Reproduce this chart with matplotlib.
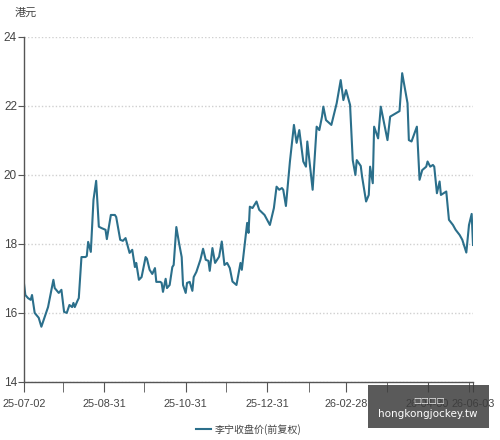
import pandas as pd
import matplotlib.pyplot as plt
import matplotlib.dates as mdates
from matplotlib.patches import Rectangle

# closing price (forward adjusted)
dates = ['2025-07-02', '2025-07-03', '2025-07-05', '2025-07-07', '2025-07-08', '2025-07-10',
         '2025-07-13', '2025-07-15', '2025-07-20', '2025-07-24', '2025-07-25', '2025-07-28',
         '2025-07-30', '2025-08-01', '2025-08-03', '2025-08-05', '2025-08-07', '2025-08-08',
         '2025-08-09', '2025-08-11', '2025-08-12', '2025-08-14', '2025-08-17', '2025-08-18',
         '2025-08-19', '2025-08-21', '2025-08-23', '2025-08-25', '2025-08-27', '2025-08-29',
         '2025-09-01', '2025-09-02', '2025-09-05', '2025-09-08', '2025-09-09', '2025-09-12',
         '2025-09-14', '2025-09-16', '2025-09-19', '2025-09-21', '2025-09-23', '2025-09-24',
         '2025-09-26', '2025-09-28', '2025-10-01', '2025-10-02', '2025-10-04', '2025-10-06',
         '2025-10-08', '2025-10-09', '2025-10-12', '2025-10-13', '2025-10-14', '2025-10-16',
         '2025-10-17', '2025-10-19', '2025-10-21', '2025-10-22', '2025-10-24', '2025-10-26',
         '2025-10-28', '2025-10-29', '2025-10-31', '2025-11-01', '2025-11-03', '2025-11-05',
         '2025-11-06', '2025-11-08', '2025-11-11', '2025-11-13', '2025-11-15', '2025-11-17',
         '2025-11-18', '2025-11-20', '2025-11-22', '2025-11-25', '2025-11-27', '2025-11-29',
         '2025-12-01', '2025-12-03', '2025-12-05', '2025-12-08', '2025-12-11', '2025-12-12',
         '2025-12-16', '2025-12-17', '2025-12-18', '2025-12-20', '2025-12-23', '2025-12-25',
         '2025-12-29', '2026-01-02', '2026-01-05', '2026-01-07', '2026-01-09', '2026-01-11',
         '2026-01-12', '2026-01-14', '2026-01-17', '2026-01-20', '2026-01-22', '2026-01-24',
         '2026-01-27', '2026-01-29', '2026-01-30', '2026-02-03', '2026-02-06', '2026-02-08',
         '2026-02-10', '2026-02-11', '2026-02-13', '2026-02-17', '2026-02-21', '2026-02-24',
         '2026-02-26', '2026-02-28', '2026-03-03', '2026-03-05', '2026-03-07', '2026-03-08',
         '2026-03-11', '2026-03-12', '2026-03-15', '2026-03-17', '2026-03-18', '2026-03-20',
         '2026-03-21', '2026-03-24', '2026-03-26', '2026-03-28', '2026-03-31', '2026-04-02',
         '2026-04-08', '2026-04-09', '2026-04-11', '2026-04-15', '2026-04-16', '2026-04-18',
         '2026-04-22', '2026-04-24', '2026-04-26', '2026-04-29', '2026-04-30', '2026-05-02',
         '2026-05-04', '2026-05-05', '2026-05-07', '2026-05-09', '2026-05-10', '2026-05-14',
         '2026-05-16', '2026-05-19', '2026-05-21', '2026-05-24', '2026-05-26', '2026-05-29',
         '2026-05-31', '2026-06-02', '2026-06-03']
prices = [16.85, 16.52, 16.43, 16.38, 16.52, 16.00,
          15.86, 15.60, 16.17, 16.96, 16.72, 16.58,
          16.67, 16.03, 16.00, 16.23, 16.17, 16.29,
          16.17, 16.35, 16.43, 17.62, 17.62, 17.65,
          18.06, 17.77, 19.28, 19.83, 18.50, 18.46,
          18.41, 18.14, 18.84, 18.84, 18.78, 18.12,
          18.09, 18.17, 17.74, 17.83, 17.33, 17.45,
          16.96, 17.04, 17.62, 17.57, 17.25, 17.13,
          17.30, 16.90, 16.90, 16.87, 16.61, 16.99,
          16.72, 16.81, 17.33, 17.39, 18.49, 18.03,
          17.62, 16.81, 16.58, 16.87, 16.90, 16.64,
          17.04, 17.19, 17.54, 17.86, 17.54, 17.51,
          17.22, 17.88, 17.45, 17.63, 18.07, 17.39,
          17.45, 17.30, 16.91, 16.81, 17.45, 17.25,
          18.61, 18.32, 19.08, 19.04, 19.23, 18.99,
          18.84, 18.55, 19.04, 19.66, 19.57, 19.62,
          19.57, 19.10, 20.39, 21.45, 20.93, 21.30,
          20.39, 20.24, 20.97, 19.57, 21.40, 21.30,
          21.69, 21.98, 21.59, 21.45, 22.08, 22.75,
          22.17, 22.46, 22.03, 20.43, 20.00, 20.43,
          20.26, 19.95, 19.23, 19.42, 20.24, 19.76,
          21.40, 21.06, 21.98, 21.59, 21.01, 21.69,
          21.83, 21.85, 22.95, 22.08, 21.01, 20.97,
          21.40, 19.86, 20.14, 20.24, 20.39, 20.24,
          20.29, 20.24, 19.47, 19.81, 19.42, 19.52,
          18.70, 18.55, 18.41, 18.26, 18.12, 17.75,
          18.55, 18.87, 17.97]

major_ticks = ['2025-07-02', '2025-08-31', '2025-10-31', '2025-12-31',
               '2026-02-28', '2026-04-30', '2026-06-03']
minor_ticks = ['2025-07-31', '2025-09-30', '2025-11-30', '2026-01-31',
               '2026-03-31', '2026-05-31']

x = pd.to_datetime(dates)
cjk = ['Noto Sans CJK SC', 'DejaVu Sans']
num_font = ['Liberation Sans', 'DejaVu Sans']

fig = plt.figure(figsize=(5.0, 4.4), dpi=100)
ax = fig.add_axes([0.048, 0.132, 0.898, 0.784])

ax.plot(x, prices, color='#2b6f8b', linewidth=1.5, label='李宁收盘价(前复权)')

ax.set_ylim(14, 24)
ax.set_yticks([14, 16, 18, 20, 22, 24])
ax.set_xlim(pd.Timestamp('2025-07-02'), pd.Timestamp('2026-06-03'))
ax.set_xticks(pd.to_datetime(major_ticks))
ax.set_xticks(pd.to_datetime(minor_ticks), minor=True)
ax.xaxis.set_major_formatter(mdates.DateFormatter('%y-%m-%d'))

for s in ['top', 'right']:
    ax.spines[s].set_visible(False)
for s in ['left', 'bottom']:
    ax.spines[s].set_color('#555555')
    ax.spines[s].set_linewidth(1.0)

ax.grid(axis='y', color='#d0d0d0', linestyle=(0, (1, 1.5)), linewidth=1.0)
ax.tick_params(axis='y', length=4, color='#555555', labelsize=8.5, pad=1, labelcolor='#444444')
ax.tick_params(axis='x', which='both', length=7, color='#555555', labelsize=7.8, pad=5,
               labelcolor='#444444')
for lab in ax.get_xticklabels() + ax.get_yticklabels():
    lab.set_family(num_font)

fig.text(0.03, 0.97, '港元', family=cjk, fontsize=8, color='#444444', va='center')

leg = ax.legend(loc='lower center', bbox_to_anchor=(0.5, -0.18), frameon=False,
                handlelength=1.5, handletextpad=0.4, prop={'family': cjk, 'size': 7.2})
for t in leg.get_texts():
    t.set_color('#444444')

# watermark box in the bottom-right corner
fig.patches.append(Rectangle((0.736, 0.027), 0.242, 0.098, transform=fig.transFigure,
                             facecolor='#3d3d3d', alpha=0.85, edgecolor='none', zorder=10))
fig.text(0.857, 0.09, '□□□□', color='white', fontsize=6, ha='center', va='center', zorder=11)
fig.text(0.855, 0.058, 'hongkongjockey.tw', color='white', fontsize=7.5, ha='center',
         va='center', zorder=11)

fig.savefig('out.png', dpi=100)
